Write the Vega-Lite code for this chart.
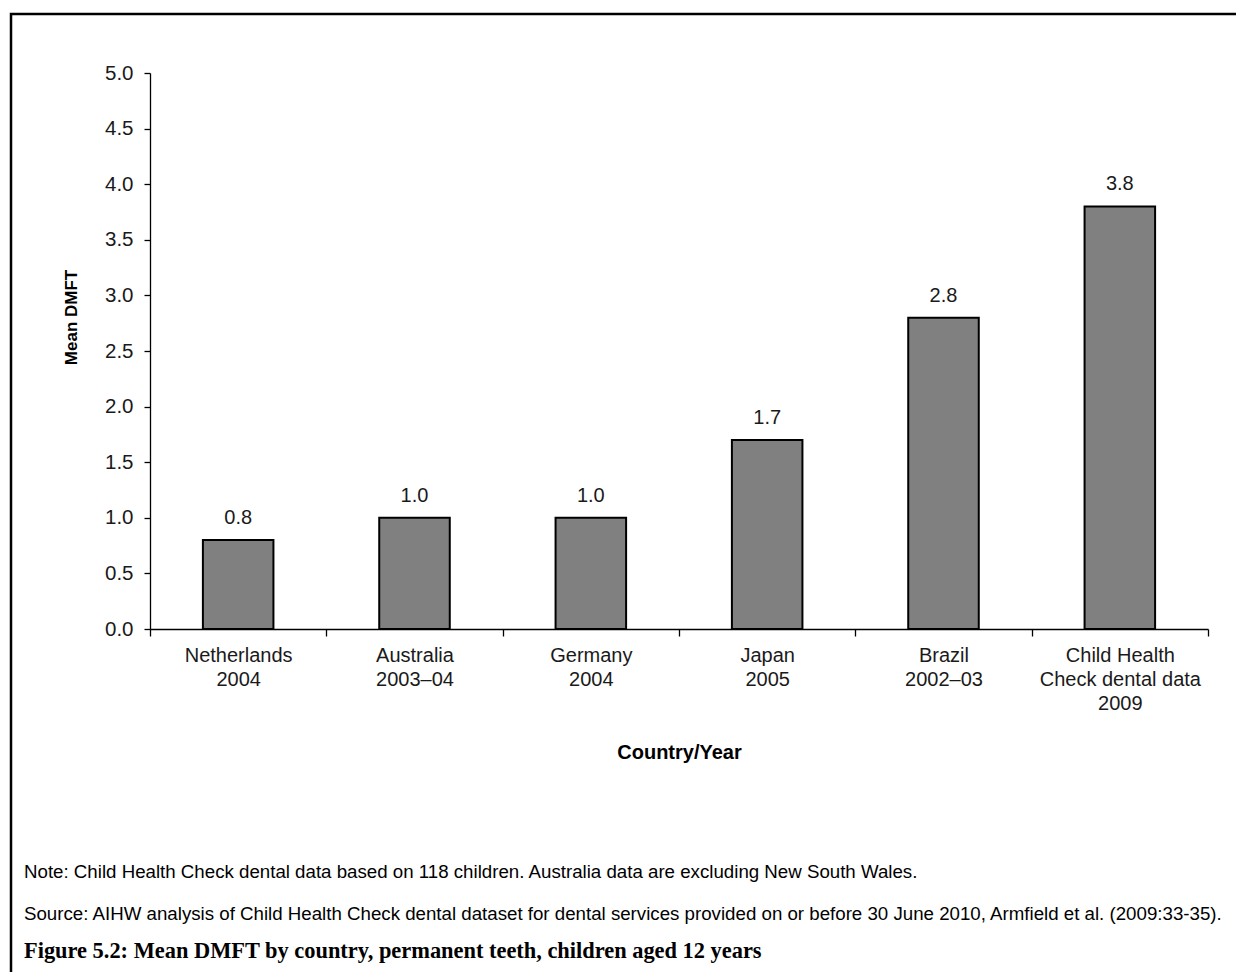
{
  "$schema": "https://vega.github.io/schema/vega-lite/v6.json",
  "autosize": {"type": "none"},
  "padding": {"left": 11, "top": 14, "right": 0, "bottom": 0},
  "width": 1240,
  "height": 970,
  "background": "white",
  "config": {
    "view": {"stroke": "black", "strokeWidth": 2.5},
    "font": "Liberation Sans"
  },
  "data": {
    "values": [
      {"label": "Netherlands\n2004", "value": 0.8},
      {"label": "Australia\n2003–04", "value": 1.0},
      {"label": "Germany\n2004", "value": 1.0},
      {"label": "Japan\n2005", "value": 1.7},
      {"label": "Brazil\n2002–03", "value": 2.8},
      {"label": "Child Health\nCheck dental data\n2009", "value": 3.8}
    ]
  },
  "title": {
    "text": [
      "Note: Child Health Check dental data based on 118 children. Australia data are excluding New South Wales.",
      "Source:  AIHW analysis of Child Health Check dental dataset for dental services provided on or before 30 June 2010, Armfield et al. (2009:33-35)."
    ],
    "orient": "bottom",
    "anchor": "start",
    "frame": "group",
    "offset": -121,
    "dx": 13,
    "font": "Liberation Sans",
    "fontSize": 18.7,
    "fontWeight": "normal",
    "color": "black",
    "lineHeight": 42,
    "subtitle": "Figure 5.2: Mean DMFT by country, permanent teeth, children aged 12 years",
    "subtitleFont": "Liberation Serif",
    "subtitleFontSize": 22.4,
    "subtitleFontWeight": "bold",
    "subtitleColor": "black",
    "subtitlePadding": 16
  },
  "encoding": {
    "x": {
      "field": "label",
      "type": "nominal",
      "sort": null,
      "scale": {"range": [139, 1197], "paddingInner": 0, "paddingOuter": 0},
      "axis": {
        "orient": "bottom",
        "offset": -355,
        "tickBand": "extent",
        "labelExpr": "split(datum.label, '\\n')",
        "labelAngle": 0,
        "labelFontSize": 20,
        "labelLineHeight": 24,
        "labelColor": "#1a1a1a",
        "labelPadding": 9,
        "labelLimit": 0,
        "tickSize": 7,
        "tickColor": "black",
        "domainColor": "black",
        "domainWidth": 1.3,
        "tickWidth": 1.3,
        "title": "Country/Year",
        "titleFontSize": 20,
        "titleFontWeight": "bold",
        "titleColor": "black",
        "titlePadding": 29
      }
    },
    "y": {
      "field": "value",
      "type": "quantitative",
      "scale": {"domain": [0, 5], "range": [615, 59], "nice": false, "zero": true},
      "axis": {
        "offset": -139,
        "values": [0, 0.5, 1, 1.5, 2, 2.5, 3, 3.5, 4, 4.5, 5],
        "format": ".1f",
        "grid": false,
        "tickSize": 6,
        "labelPadding": 11,
        "labelFontSize": 20.5,
        "labelColor": "#1a1a1a",
        "domainColor": "black",
        "domainWidth": 1.3,
        "tickColor": "black",
        "tickWidth": 1.3,
        "title": "Mean DMFT",
        "titleFontSize": 17,
        "titleFontWeight": "bold",
        "titleColor": "black",
        "titleX": -79,
        "titleY": 303,
        "titleAngle": 270,
        "titleAlign": "center",
        "titleBaseline": "middle"
      }
    }
  },
  "layer": [
    {
      "mark": {"type": "bar", "fill": "#808080", "stroke": "black", "strokeWidth": 2, "width": {"band": 0.4}}
    },
    {
      "mark": {"type": "text", "dy": -22, "fontSize": 20, "color": "#1a1a1a", "baseline": "middle"},
      "encoding": {
        "text": {"field": "value", "type": "quantitative", "format": ".1f"}
      }
    }
  ]
}
